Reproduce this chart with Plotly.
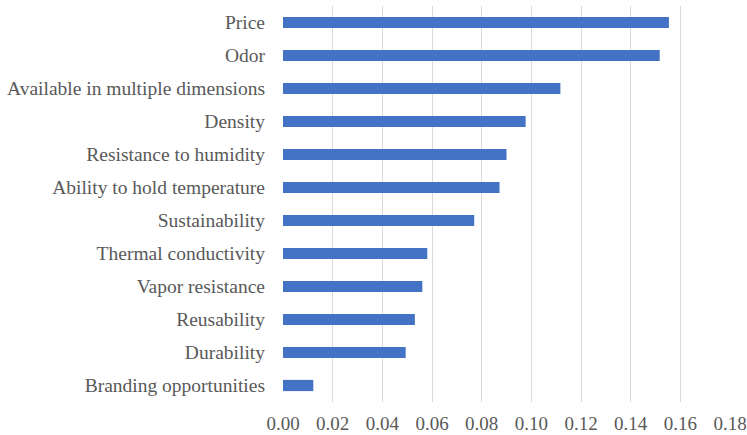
import plotly.graph_objects as go

categories = ["Price", "Odor", "Available in multiple dimensions", "Density",
              "Resistance to humidity", "Ability to hold temperature", "Sustainability",
              "Thermal conductivity", "Vapor resistance", "Reusability", "Durability",
              "Branding opportunities"]
values = [0.1554, 0.1517, 0.1117, 0.0977, 0.0900, 0.0872, 0.0770,
          0.0581, 0.0561, 0.0531, 0.0494, 0.0122]
x_ticks = [0.00, 0.02, 0.04, 0.06, 0.08, 0.10, 0.12, 0.14, 0.16, 0.18]

fig = go.Figure(go.Bar(
    x=values, y=categories, orientation="h",
    marker=dict(color="#4472c4", line=dict(width=0)),
    width=0.34,
))

yfont = dict(family="Liberation Serif", size=19.5, color="#595959")
xfont = dict(family="Liberation Serif", size=19, color="#595959")

fig.update_layout(
    width=747, height=435,
    margin=dict(l=283, r=17, t=6, b=33, autoexpand=False),
    paper_bgcolor="white", plot_bgcolor="white",
    showlegend=False,
    font=yfont,
    xaxis=dict(range=[0, 0.18], tickvals=x_ticks, tickformat=".2f",
               showgrid=True, gridcolor="#d9d9d9", gridwidth=1,
               zeroline=False, showline=False, ticks="", tickfont=xfont,
               ticklabelstandoff=8),
    yaxis=dict(autorange="reversed", showgrid=False, zeroline=False,
               showline=False, ticks="", tickfont=yfont, ticklabelstandoff=17),
)

fig.write_html("out.html", config={"displayModeBar": False},
               post_script="document.body.style.margin='0';")
